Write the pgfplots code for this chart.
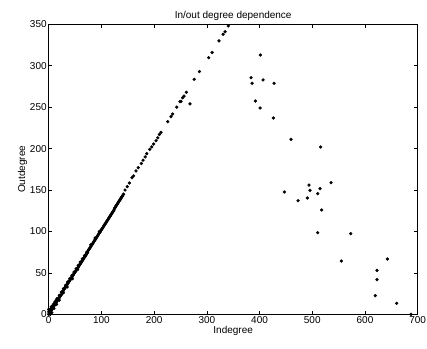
\documentclass[border=0pt]{standalone}
\usepackage{pgfplots}
\pgfplotsset{compat=1.18}
\usepackage{fontspec}
\setmainfont{Liberation Sans}
\begin{document}
\begin{tikzpicture}
\begin{axis}[
  scale only axis,
  width=369pt, height=290pt,
  at={(0,0)}, anchor=south west,
  xmin=0, xmax=700, ymin=0, ymax=350,
  xtick={0,100,...,700}, ytick={0,50,...,350},
  tick align=inside, major tick length=3.5pt,
  axis line style={line width=0.8pt},
  every tick/.style={black, line width=0.6pt},
  /pgf/number format/assume math mode=true,
  tick label style={font=\fontsize{10}{12}\selectfont},
  yticklabel style={xshift=1.5pt},
  xticklabel style={yshift=1pt},
  title={In/out degree dependence},
  title style={font=\fontsize{10}{12}\selectfont, yshift=-6pt},
  xlabel={Indegree}, ylabel={Outdegree},
  label style={font=\fontsize{10}{12}\selectfont},
  xlabel style={yshift=5pt},
  ylabel style={yshift=-4pt},
  clip=false,
]
\addplot[only marks, mark=*, mark size=1.45pt, black] coordinates {
(0,0)(2,2)(4,4)(6,6)(8,8)(10,10)(12,12)(14,14)(16,16)(18,18)(20,20)(22,22)(24,24)(26,27)(28,29)(30,31)(32,33)(34,35)(36,37)(38,39)(40,41)(42,43)(44,45)(46,47)(48,49)(50,51)(52,53)(54,55)(56,57)(58,59)(60,61)(62,63)(64,65)(66,67)(68,69)(70,71)(72,73)(74,75)(76,78)(78,80)(80,82)(82,84)(84,86)(86,88)(88,90)(90,92)(92,94)(94,96)(96,98)(98,100)(100,102)(102,104)(104,106)(106,108)(108,110)(110,112)(112,114)(114,116)(116,118)(118,120)(120,122)(122,124)(124,126)(126,129)(128,131)(130,133)(132,135)(134,137)(136,139)(138,141)(140,143)(142,145)
(1,1)(3,3)(5,5)(7,7)(9,9)(11,11)(13,13)(15,15)(17,17)(19,19)(21,21)(23,23)(25,26)(27,28)(29,30)(31,32)(33,34)(35,36)(37,38)(39,40)(41,42)(43,44)(45,46)(47,48)(49,50)(51,52)(53,54)(55,56)(57,58)(59,60)(61,62)(63,64)(65,66)(67,68)(69,70)(71,72)(73,74)(75,77)(77,79)(79,81)(81,83)(83,85)(85,87)(87,89)(89,91)(91,93)(93,95)(95,97)(97,99)(99,101)(101,103)(103,105)(105,107)(107,109)(109,111)(111,113)(113,115)(115,117)(117,119)(119,121)(121,123)(123,125)(125,128)(127,130)(129,132)(131,134)(133,136)(135,138)(137,140)(139,142)(141,144)
(0,3)(2,5)(4,7)(6,9)(8,11)(10,13)(12,15)(14,17)(16,19)(20,23)(24,27)(28,31)(32,35)(36,39)(40,43)(44,47)(48,51)(52,55)(56,59)(60,63)(64,67)(68,71)(72,75)(80,84)(88,92)(96,100)
(1,5)(3,1)(5,9)(6,2)(10,7)(15,12)(20,17)(28,26)(35,33)(45,43)(55,54)(0,6)(3,0)
(144.8,150)(149,154)(153,158.5)(158,165)(161,167)(165.6,173)(170,177)(175.7,182)(179,186)(183,190)(186,194)(191.6,199)(195.4,202)(199,205.5)(203.6,209.5)(207,213)(210,217)(213,219.6)(225.7,232.5)(232,238.5)(235,241.7)(243,250)(249,256.6)(251,257)(254,261.4)(256.7,263.4)(261,268)(276,283.6)(286,293)(303.5,309.7)(310,316)(323,330)(331,338)(334.5,341)(340.7,348)
(268,254)(383.8,285.5)(385.8,278.8)(401.5,312.9)(406.6,282.8)(427.5,278.8)(392,257.4)(400.9,249)(426.1,236.9)(459.7,211.2)(516,201.9)(447,147.6)(473,137.1)(493.8,156)(495.7,149.6)(490.7,140.4)(510.3,145.6)(514.7,151.6)(535.6,158.8)(517.9,125.9)(510.3,98.5)(572.9,97.3)(555.1,64.3)(642.4,66.7)(622.8,53.1)(622.8,41.8)(619.6,22.5)(660.2,13.3)(687.3,0)
};
\end{axis}
\pgfresetboundingbox
\path (-48.7pt,-33.7pt) rectangle (378.3pt,314.3pt);
\end{tikzpicture}
\end{document}
